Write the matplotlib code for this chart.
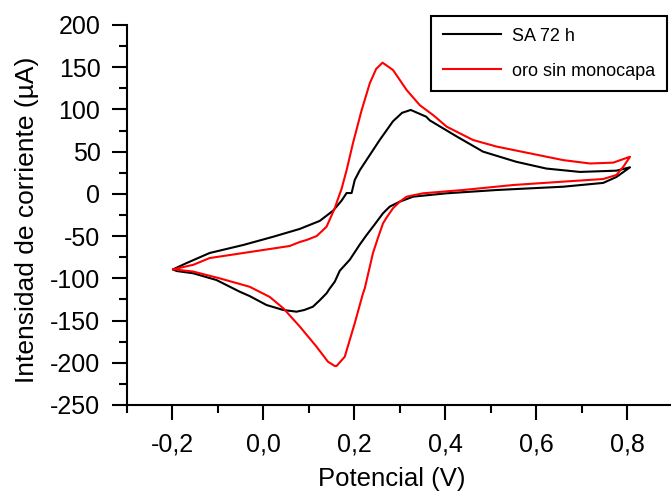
import matplotlib
matplotlib.use("Agg")
import matplotlib.pyplot as plt
from matplotlib.ticker import FixedLocator

plt.rcParams['font.family'] = ['Liberation Sans', 'DejaVu Sans']

# SA 72 h (black): forward (anodic) then reverse (cathodic) scan
sa_x = [-0.198, -0.169, -0.118, -0.044, 0.022, 0.080, 0.124, 0.153, 0.161, 0.172, 0.183, 0.194,
        0.201, 0.212, 0.234, 0.256, 0.285, 0.305, 0.324, 0.358, 0.366, 0.425, 0.483, 0.556,
        0.622, 0.696, 0.776, 0.806,
        0.776, 0.747, 0.659, 0.513, 0.403, 0.329, 0.300, 0.278, 0.263, 0.245, 0.227, 0.212,
        0.190, 0.168, 0.157, 0.146, 0.139, 0.124, 0.109, 0.090, 0.073, 0.044, 0.007, -0.030,
        -0.052, -0.103, -0.154, -0.191, -0.198]
sa_y = [-89.3, -82, -70, -60.5, -50.7, -41.5, -32, -20, -15, -8, 1.0, 1.0,
        16.5, 28, 46, 64, 86, 96, 99.4, 91.4, 87, 68, 50, 38,
        30, 26, 27.5, 31.5,
        20, 13, 8.5, 4.6, 0.7, -3.3, -9.2, -15, -23, -36, -48.7, -60,
        -78, -91, -104, -112, -117.7, -126, -133.6, -137.5, -139.5, -137.5, -131.6, -121,
        -115.8, -102, -94, -91.3, -89.3]

# oro sin monocapa (red)
oro_x = [-0.198, -0.154, -0.118, -0.044, 0.058, 0.080, 0.095, 0.117, 0.131, 0.139, 0.157,
         0.164, 0.172, 0.179, 0.183, 0.197, 0.216, 0.234, 0.248, 0.262, 0.285, 0.315, 0.344,
         0.373, 0.403, 0.461, 0.513, 0.586, 0.659, 0.718, 0.769, 0.806,
         0.791, 0.776, 0.747, 0.659, 0.549, 0.439, 0.351, 0.315, 0.300, 0.285, 0.271, 0.263,
         0.252, 0.241, 0.223, 0.219, 0.201, 0.179, 0.161, 0.157, 0.142, 0.117, 0.080, 0.044,
         0.014, -0.030, -0.096, -0.154, -0.198]
oro_y = [-89.3, -84, -76, -70, -61.7, -57, -54.6, -50, -43, -38.8, -17,
         -6, 6, 20, 28, 60, 99, 131, 148, 155.4, 146.7, 123, 105,
         93.4, 79.6, 63.8, 56, 48, 40, 36, 37, 44,
         32, 22.4, 17.6, 14.5, 10.5, 4.6, 0.7, -3.3, -9.2, -17, -28, -35,
         -52, -70, -111.8, -118, -153, -192.8, -203.8, -203.8, -198.7, -181, -157, -135.5,
         -122, -110, -100, -92, -89.3]

series_labels = ["SA 72 h", "oro sin monocapa"]
x_ticks = [-0.2, 0.0, 0.2, 0.4, 0.6, 0.8]
x_ticklabels = ['-0,2', '0,0', '0,2', '0,4', '0,6', '0,8']
y_ticks = list(range(-250, 201, 50))

fig = plt.figure(figsize=(6.71, 4.93), dpi=100)
ax = fig.add_axes([0.189, 0.1785, 0.811, 0.7708])

ax.plot(sa_x, sa_y, color='black', lw=1.5, label=series_labels[0])
ax.plot(oro_x, oro_y, color='#ff0000', lw=1.5, label=series_labels[1])

ax.set_xlim(-0.3, 0.896)
ax.set_ylim(-250, 200)

ax.xaxis.set_major_locator(FixedLocator(x_ticks))
ax.xaxis.set_minor_locator(FixedLocator([-0.3, -0.1, 0.1, 0.3, 0.5, 0.7]))
ax.yaxis.set_major_locator(FixedLocator(y_ticks))
ax.yaxis.set_minor_locator(FixedLocator([v + 25 for v in y_ticks[:-1]]))
ax.set_xticklabels(x_ticklabels)
ax.set_yticklabels([str(v) for v in y_ticks])

for s in ['top', 'right']:
    ax.spines[s].set_visible(False)
for s in ['left', 'bottom']:
    ax.spines[s].set_linewidth(1.5)

ax.tick_params(which='major', direction='out', length=11, width=1.5, labelsize=18)
ax.tick_params(axis='x', which='major', pad=9)
ax.tick_params(axis='y', which='major', pad=8)
ax.tick_params(which='minor', direction='out', length=6, width=1.5)

ax.set_xlabel('Potencial (V)', fontsize=18.5)
ax.set_ylabel('Intensidad de corriente (µA)', fontsize=19)
ax.xaxis.set_label_coords(0.486, -0.163)
ax.yaxis.set_label_coords(-0.162, 0.488)

leg = ax.legend(loc='upper right', bbox_to_anchor=(0.993, 1.024), borderaxespad=0,
                fontsize=13, frameon=True, fancybox=False, framealpha=1,
                edgecolor='black', handlelength=3.2, handletextpad=0.65,
                labelspacing=1.0, borderpad=0.65)
leg.get_frame().set_linewidth(1.5)

fig.savefig('out.png', dpi=100)
